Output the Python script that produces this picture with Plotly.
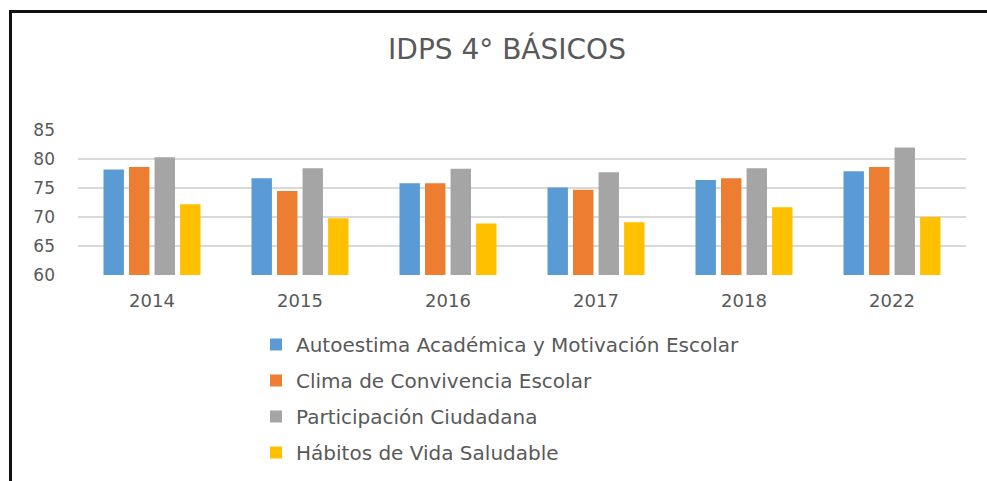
import plotly.graph_objects as go

years = ["2014", "2015", "2016", "2017", "2018", "2022"]
autoestima = [78.2, 76.7, 75.8, 75.1, 76.4, 77.9]
clima = [78.6, 74.5, 75.8, 74.7, 76.7, 78.6]
participacion = [80.3, 78.4, 78.3, 77.7, 78.4, 82.0]
habitos = [72.2, 69.8, 68.9, 69.1, 71.7, 70.0]

series_names = [
    "Autoestima Académica y Motivación Escolar",
    "Clima de Convivencia Escolar",
    "Participación Ciudadana",
    "Hábitos de Vida Saludable",
]
series_values = [autoestima, clima, participacion, habitos]
colors = ["#5B9BD5", "#ED7D31", "#A5A5A5", "#FFC000"]

W, H = 987, 481
ml, mr, mt, mb = 78, 21, 130, 206
pw, ph = W - ml - mr, H - mt - mb

def px_x(x):
    return (x - ml) / pw

def px_y(y):
    return (H - mb - y) / ph

fig = go.Figure()
for i, (name, vals, col) in enumerate(zip(series_names, series_values, colors)):
    fig.add_trace(go.Bar(
        x=years, y=vals, name=name, legendgroup=f"g{i}",
        marker=dict(color=col, line=dict(width=0)),
    ))

txt = "#595959"
fig.update_layout(
    width=W, height=H,
    margin=dict(l=ml, r=mr, t=mt, b=mb, autoexpand=False),
    paper_bgcolor="white", plot_bgcolor="white",
    barmode="group", bargap=0.31, bargroupgap=0.2,
    font=dict(family="DejaVu Sans", color=txt),
    title=dict(text="IDPS 4° BÁSICOS", x=px_x(507), xref="paper", xanchor="center",
               y=1 - 49 / H, yref="container", yanchor="middle",
               font=dict(family="DejaVu Sans", size=28, color=txt)),
    xaxis=dict(showgrid=False, showline=False, zeroline=False, ticks="",
               tickfont=dict(size=18, color=txt), ticklabelstandoff=13),
    yaxis=dict(range=[60, 85], tickvals=[60, 65, 70, 75, 80, 85],
               showgrid=True, gridcolor="#D9D9D9", gridwidth=2,
               showline=False, zeroline=False, ticks="",
               tickfont=dict(size=17, color=txt), ticklabelstandoff=22),
    legend=dict(orientation="v", x=px_x(256), xanchor="left",
                y=px_y(325), yanchor="top",
                font=dict(size=20, color=txt), tracegroupgap=7,
                bgcolor="rgba(0,0,0,0)", traceorder="grouped"),
    showlegend=True,
    shapes=[
        dict(type="line", xref="paper", yref="paper",
             x0=px_x(10.5), x1=px_x(W + 5), y0=px_y(11.5), y1=px_y(11.5),
             line=dict(color="#111111", width=3)),
        dict(type="line", xref="paper", yref="paper",
             x0=px_x(10.5), x1=px_x(10.5), y0=px_y(10), y1=px_y(H + 5),
             line=dict(color="#111111", width=3)),
    ],
)

fig.write_html("out.html", config={"displayModeBar": False},
               post_script="document.body.style.margin='0';document.body.style.overflow='hidden';")
